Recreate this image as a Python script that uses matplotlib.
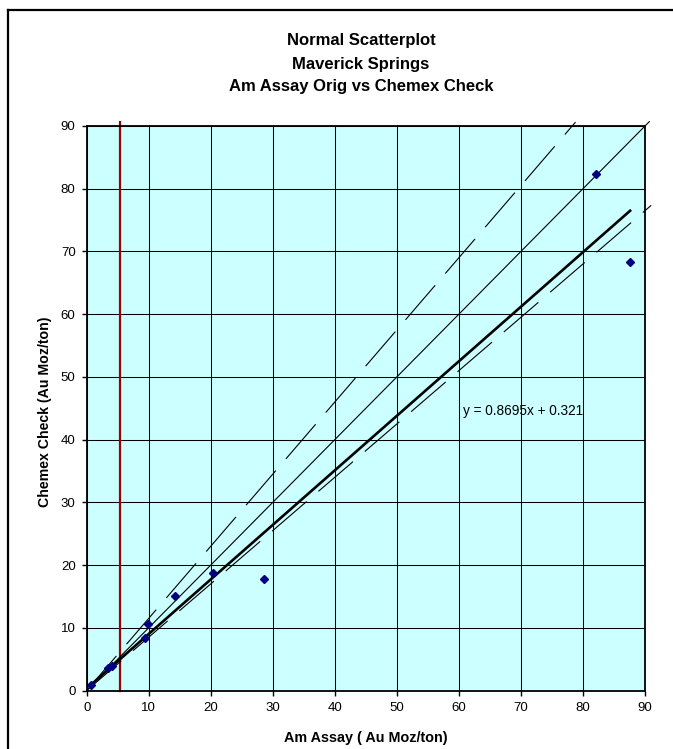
import matplotlib
matplotlib.use("Agg")
import matplotlib.pyplot as plt
from matplotlib.lines import Line2D
import numpy as np

plt.rcParams['font.family'] = ['Liberation Sans', 'DejaVu Sans']

# ---- data ----
title_lines = ["Normal Scatterplot", "Maverick Springs", "Am Assay Orig vs Chemex Check"]
x_label = "Am Assay ( Au Moz/ton)"
y_label = "Chemex Check (Au Moz/ton)"
am_assay = [0.65, 3.4, 4.0, 9.4, 9.9, 14.2, 20.3, 28.6, 82.1, 87.6]
chemex_check = [0.88, 3.6, 3.9, 8.3, 10.6, 15.1, 18.8, 17.7, 82.3, 68.3]
reg_slope = 0.8695
reg_intercept = 0.321
equation_text = "y = 0.8695x + 0.321"
upper_factor = 1.15
lower_factor = 0.85
one_to_one_end = 90.7
upper_end = 78.8
lower_end = 91.0
cutoff_x = 5.4
cutoff_top = 90.6
ticks = [0, 10, 20, 30, 40, 50, 60, 70, 80, 90]

W, H = 673, 749
fig = plt.figure(figsize=(W / 100, H / 100), dpi=100)
fig.patch.set_facecolor('white')

left, right, top, bottom = 86.7, 645.0, 126.0, 690.5
ax = fig.add_axes([left / W, 1 - bottom / H, (right - left) / W, (bottom - top) / H])
ax.set_facecolor('#CCFFFF')
ax.set_xlim(0, 90)
ax.set_ylim(0, 90)
ax.set_xticks(ticks)
ax.set_yticks(ticks)
ax.grid(True, color='black', linewidth=0.75, zorder=1)
ax.set_axisbelow(True)
for s in ax.spines.values():
    s.set_linewidth(1.3)
    s.set_color('black')
    s.set_zorder(6)
ax.tick_params(direction='out', length=3.5, width=1.0, labelsize=9.5, colors='black')
ax.tick_params(axis='y', pad=4.5)
ax.tick_params(axis='x', pad=5)

# red cutoff line
ax.plot([cutoff_x, cutoff_x], [0, cutoff_top], color='#990000', lw=1.6, zorder=3, clip_on=False)

# 1:1 line
ax.plot([0, one_to_one_end], [0, one_to_one_end * 1.0], color='black', lw=0.8, zorder=3, clip_on=False)

# dashed +/- lines
for f, xe in ((upper_factor, upper_end), (lower_factor, lower_end)):
    ln, = ax.plot([0, xe], [0, f * xe], color='black', lw=0.8, zorder=3, clip_on=False)
    ln.set_dashes([41, 14])

# regression line
xr = np.array([min(am_assay), max(am_assay)])
ax.plot(xr, reg_slope * xr + reg_intercept, color='black', lw=1.9, zorder=4, clip_on=False)

# data points
ax.plot(am_assay, chemex_check, linestyle='none', marker='D', markersize=4.2,
        color='#000080', markeredgecolor='#000080', zorder=5, clip_on=False)

ax.text(60.6, 44.6, equation_text, fontsize=9.8, ha='left', va='center', zorder=6)

# labels
fig.text(365.5 / W, 1 - 738.3 / H, x_label, fontsize=10.4, fontweight='bold', ha='center', va='center')
fig.text(45 / W, 1 - 411.7 / H, y_label, fontsize=10.2, fontweight='bold', ha='center', va='center',
         rotation=90)

# title
for txt, yc in zip(title_lines, (40.0, 64.0, 86.7)):
    fig.text(361 / W, 1 - yc / H, txt, fontsize=12, fontweight='bold', ha='center', va='center')

# outer chart frame (right and bottom cut off)
fx, fy = 8.3 / W, 1 - 10 / H
fig.add_artist(Line2D([fx, fx], [-0.02, fy], color='black', lw=1.6, transform=fig.transFigure))
fig.add_artist(Line2D([fx, 1.02], [fy, fy], color='black', lw=1.6, transform=fig.transFigure))

fig.savefig('out.png', dpi=100, facecolor='white')
